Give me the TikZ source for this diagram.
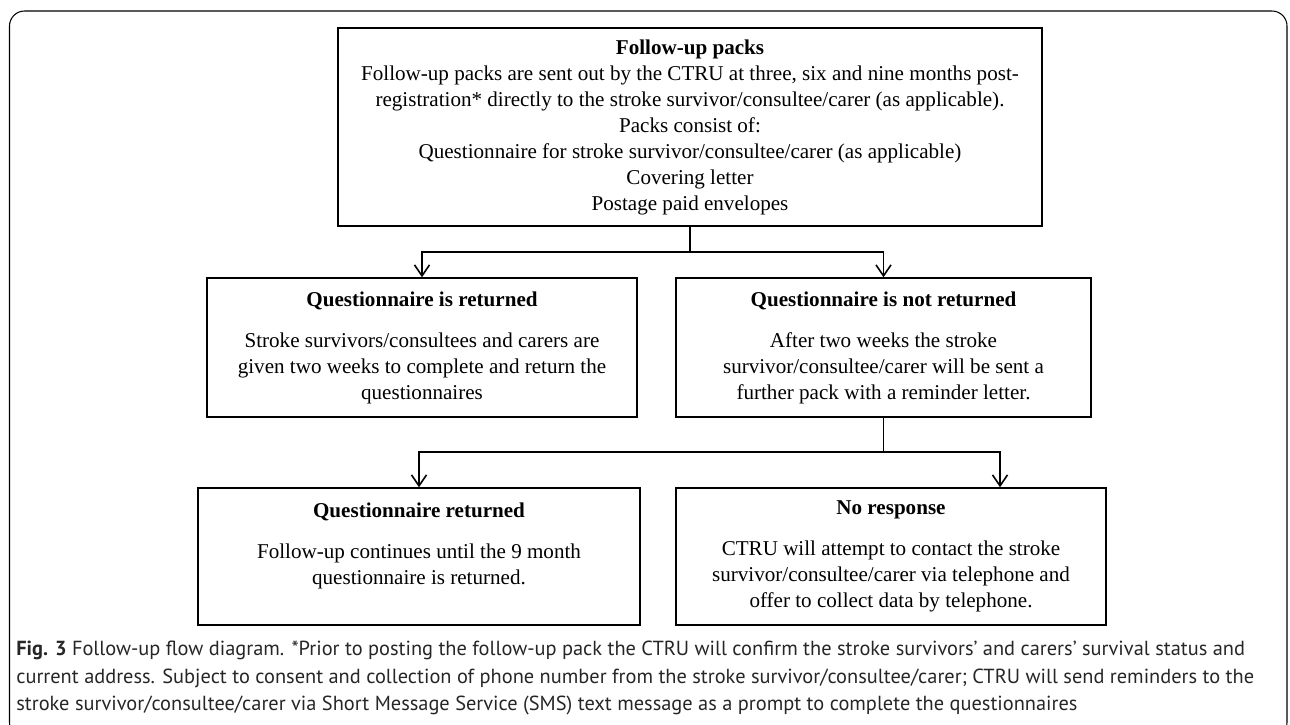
\documentclass[tikz,border=0pt]{standalone}
\usepackage{fontspec}
\setmainfont{Liberation Serif}
\newfontfamily\capfont{PT Sans}
\usetikzlibrary{arrows.meta}

\begin{document}
\begin{tikzpicture}[box/.style={draw, line width=0.8pt, align=center, inner sep=0pt, font=\fontsize{12}{14.8}\selectfont},
    link/.style={line width=0.9pt, -{Straight Barb[length=2.2mm, width=3mm, line width=0.9pt]}}]
    \clip (0,0) rectangle (25.8,-14.48);

    % draw outer frame
    \draw[line width=0.6pt, rounded corners=0.3cm] (0.19,-0.22) rectangle (25.74,-14.75);

    % draw boxes
    \node[box, minimum width=14.08cm, minimum height=3.96cm] (packs) at (13.8,-2.54)
      {\textbf{Follow-up packs}\\
       Follow-up packs are sent out by the CTRU at three, six and nine months post-\\
       registration* directly to the stroke survivor/consultee/carer (as applicable).\\
       Packs consist of:\\
       Questionnaire for stroke survivor/consultee/carer (as applicable)\\
       Covering letter\\
       Postage paid envelopes};
    \node[box, minimum width=8.6cm, minimum height=2.78cm] (returned) at (8.44,-6.95)
      {\textbf{Questionnaire is returned}\\[8.5pt]
       Stroke survivors/consultees and carers are\\
       given two weeks to complete and return the\\
       questionnaires};
    \node[box, minimum width=8.3cm, minimum height=2.78cm] (notreturned) at (17.67,-6.95)
      {\textbf{Questionnaire is not returned}\\[8.5pt]
       After two weeks the stroke\\
       survivor/consultee/carer will be sent a\\
       further pack with a reminder letter.};
    \node[box, minimum width=8.84cm, minimum height=2.74cm] (latereturn) at (8.38,-11.13)
      {\textbf{Questionnaire returned}\\[8.5pt]
       Follow-up continues until the 9 month\\
       questionnaire is returned.\\
       \mbox{}};
    \node[box, minimum width=8.6cm, minimum height=2.74cm] (noresponse) at (17.82,-11.13)
      {\textbf{No response}\\[8.5pt]
       CTRU will attempt to contact the stroke\\
       survivor/consultee/carer via telephone and\\
       offer to collect data by telephone.};

    % draw connectors
    \draw[line width=0.9pt] (packs.south) -- ++(0,-0.5) coordinate (split1);
    \draw[link] (split1) -| (returned.north);
    \draw[link] (split1) -| (notreturned.north);
    \draw[line width=0.9pt] (notreturned.south) -- ++(0,-0.68) coordinate (split2);
    \draw[link] (split2) -| (latereturn.north);
    \draw[link] (split2) -| ([xshift=2.18cm]noresponse.north);

    % draw caption
    \node[anchor=north west, align=left, inner sep=0pt, font=\capfont\fontsize{11.6}{15.4}\selectfont, text=black!85] (caption) at (0.32,-12.82)
      {\textbf{Fig. 3} Follow-up flow diagram. *Prior to posting the follow-up pack the CTRU will confirm the stroke survivors’ and carers’ survival status and\\
       current address. Subject to consent and collection of phone number from the stroke survivor/consultee/carer; CTRU will send reminders to the\\
       stroke survivor/consultee/carer via Short Message Service (SMS) text message as a prompt to complete the questionnaires};
\end{tikzpicture}
\end{document}
